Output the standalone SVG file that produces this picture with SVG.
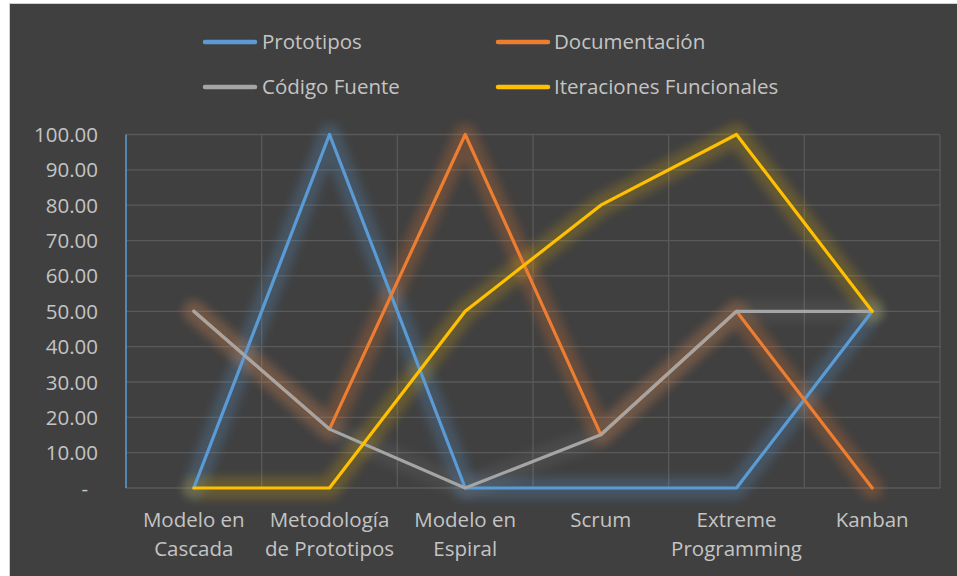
<svg xmlns="http://www.w3.org/2000/svg" width="957" height="576" viewBox="0 0 957 576">
<style>
.t{font-family:"Open Sans","Liberation Sans",sans-serif;font-size:20.5px;fill:#C4C4C4}
.yl{text-anchor:end}
.xl{text-anchor:middle}
.grid{stroke:#595959;stroke-width:1.3;fill:none}
.ln{fill:none;stroke-width:3.2;stroke-linejoin:round;stroke-linecap:round}
.glow{fill:none;stroke-width:22;stroke-linejoin:round;stroke-linecap:round;opacity:0.24;filter:url(#blur)}
.blue{stroke:#5B9BD5}.orange{stroke:#ED7D31}.gray{stroke:#A5A5A5}.yellow{stroke:#FFC000}
.leg{stroke-width:4.5;stroke-linecap:round}
</style>
<defs>
<filter id="blur" x="-20%" y="-20%" width="140%" height="140%"><feGaussianBlur stdDeviation="5"/></filter>
</defs>
<rect x="0" y="0" width="957" height="576" fill="#FFFFFF"/>
<rect x="9.5" y="3.5" width="950" height="575" fill="#404040" stroke="#D0D0D0" stroke-width="1"/>
<g id="legend">
<line class="leg blue" x1="205" y1="42" x2="255" y2="42"/>
<text class="t" x="262" y="49">Prototipos</text>
<line class="leg orange" x1="498" y1="42" x2="548" y2="42"/>
<text class="t" x="554" y="49">Documentación</text>
<line class="leg gray" x1="205" y1="87" x2="255" y2="87"/>
<text class="t" x="262" y="94">Código Fuente</text>
<line class="leg yellow" x1="498" y1="87" x2="548" y2="87"/>
<text class="t" x="554" y="94">Iteraciones Funcionales</text>
</g>
<g id="grid">
<path class="grid" d="M126 134.5H940M126 169.9H940M126 205.2H940M126 240.6H940M126 275.9H940M126 311.3H940M126 346.6H940M126 382H940M126 417.3H940M126 452.7H940M126 488H940"/>
<path class="grid" d="M261.7 134.5V488M397.3 134.5V488M533 134.5V488M668.7 134.5V488M804.3 134.5V488M940 134.5V488"/>
<line x1="126" y1="134.5" x2="126" y2="488" stroke="#5B9BD5" stroke-width="1.5"/>
</g>
<g id="y-axis">
<text class="t yl" x="98" y="142">100.00</text>
<text class="t yl" x="98" y="177.4">90.00</text>
<text class="t yl" x="98" y="212.7">80.00</text>
<text class="t yl" x="98" y="248.1">70.00</text>
<text class="t yl" x="98" y="283.4">60.00</text>
<text class="t yl" x="98" y="318.8">50.00</text>
<text class="t yl" x="98" y="354.1">40.00</text>
<text class="t yl" x="98" y="389.5">30.00</text>
<text class="t yl" x="98" y="424.8">20.00</text>
<text class="t yl" x="98" y="460.2">10.00</text>
<text class="t yl" x="88" y="495.5">-</text>
</g>
<g id="x-axis">
<text class="t xl" x="193.8" y="527">Modelo en</text>
<text class="t xl" x="193.8" y="556">Cascada</text>
<text class="t xl" x="329.5" y="527">Metodología</text>
<text class="t xl" x="329.5" y="556">de Prototipos</text>
<text class="t xl" x="465.2" y="527">Modelo en</text>
<text class="t xl" x="465.2" y="556">Espiral</text>
<text class="t xl" x="600.8" y="527">Scrum</text>
<text class="t xl" x="736.5" y="527">Extreme</text>
<text class="t xl" x="736.5" y="556">Programming</text>
<text class="t xl" x="872.2" y="527">Kanban</text>
</g>
<g id="connectors">
<g id="glows">
<polyline class="glow blue" points="193.8,488 329.5,134.5 465.2,488 600.8,488 736.5,488 872.2,311.3"/>
<polyline class="glow orange" points="193.8,311.3 329.5,429.1 465.2,134.5 600.8,434.7 736.5,311.3 872.2,488"/>
<polyline class="glow gray" style="opacity:0.1" points="193.8,311.3 329.5,429.1 465.2,488 600.8,434.7 736.5,311.3 872.2,311.3"/>
<polyline class="glow yellow" style="opacity:0.2" points="193.8,488 329.5,488 465.2,311.3 600.8,205.2 736.5,134.5 872.2,311.3"/>
</g>
<polyline id="prototipos" class="ln blue" points="193.8,488 329.5,134.5 465.2,488 600.8,488 736.5,488 872.2,311.3"/>
<polyline id="documentacion" class="ln orange" points="193.8,311.3 329.5,429.1 465.2,134.5 600.8,434.7 736.5,311.3 872.2,488"/>
<polyline id="codigo" class="ln gray" points="193.8,311.3 329.5,429.1 465.2,488 600.8,434.7 736.5,311.3 872.2,311.3"/>
<polyline id="iteraciones" class="ln yellow" points="193.8,488 329.5,488 465.2,311.3 600.8,205.2 736.5,134.5 872.2,311.3"/>
</g>
</svg>
